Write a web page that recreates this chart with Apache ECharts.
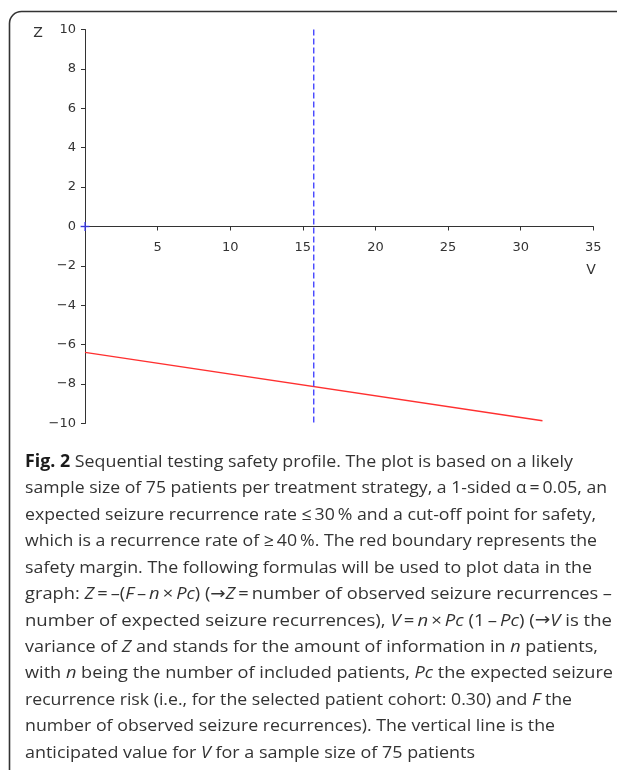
<!DOCTYPE html>
<html>
<head>
<meta charset="utf-8">
<script src="https://cdn.jsdelivr.net/npm/echarts@6/dist/echarts.min.js"></script>
<style>
html,body{margin:0;padding:0;background:#fff;}
#c{width:617px;height:770px;}
</style>
</head>
<body>
<div id="c"></div>
<script>
// ---- data ----
var xTicks = [5, 10, 15, 20, 25, 30, 35];
var yTicks = [-10, -8, -6, -4, -2, 0, 2, 4, 6, 8, 10];
var boundaryV = [0, 31.5];          // V values of the red safety boundary
var boundaryZ = [-6.39, -9.86];     // Z values of the red safety boundary
var anticipatedV = 15.75;           // vertical line (n=75, Pc=0.30)
var anticipatedZ = [10, -10];
var originPoint = [[0, 0]];
var captionLines = [
  '{b|Fig. 2} Sequential testing safety profile. The plot is based on a likely',
  'sample size of 75 patients per treatment strategy, a 1-sided \u03b1\u2009=\u20090.05, an',
  'expected seizure recurrence rate \u2264\u200930\u2009% and a cut-off point for safety,',
  'which is a recurrence rate of \u2265\u200940\u2009%. The red boundary represents the',
  'safety margin. The following formulas will be used to plot data in the',
  'graph: {i|Z}\u2009=\u2009\u2013({i|F}\u2009\u2013\u2009{i|n}\u2009\u00d7\u2009{i|Pc}) ({a|\u2192}{i|Z}\u2009=\u2009number of observed seizure recurrences \u2013',
  'number of expected seizure recurrences), {i|V}\u2009=\u2009{i|n}\u2009\u00d7\u2009{i|Pc} (1\u2009\u2013\u2009{i|Pc}) ({a|\u2192}{i|V} is the',
  'variance of {i|Z} and stands for the amount of information in {i|n} patients,',
  'with {i|n} being the number of included patients, {i|Pc} the expected seizure',
  'recurrence risk (i.e., for the selected patient cohort: 0.30) and {i|F} the',
  'number of observed seizure recurrences). The vertical line is the',
  'anticipated value for {i|V} for a sample size of 75 patients'
];

// ---- layout ----
var capLeft = 25;
var capLineEnds = [573, 607, 596, 597, 592, 612, 612, 598, 613, 572, 555, 475];
var capSize = 17;
var capFamily = '"Open Sans"';
var fonts = {
  r: capSize + 'px ' + capFamily,
  b: 'bold ' + capSize + 'px ' + capFamily,
  i: 'italic ' + capSize + 'px ' + capFamily,
  a: capSize + 'px "DejaVu Sans"'
};
var ctx = document.createElement('canvas').getContext('2d');
function mw(t, k) { ctx.font = fonts[k]; return ctx.measureText(t).width; }
function measure(line) {
  var re = /\{(\w)\|([^}]*)\}/g, w = 0, last = 0, m;
  while ((m = re.exec(line))) {
    w += mw(line.slice(last, m.index), 'r');
    w += mw(m[2], m[1]);
    last = re.lastIndex;
  }
  return w + mw(line.slice(last), 'r');
}

var chart = echarts.init(document.getElementById('c'), null, {renderer: 'canvas'});

var gridTop = 29.5, gridBottom = 346.5;
var gridH = 770 - gridTop - gridBottom;
var capGraphics = captionLines.map(function (t, i) {
  var sc = (capLineEnds[i] - capLeft) / measure(t);
  return {
    type: 'text',
    x: capLeft, y: 462 + i * 26.45,
    scaleX: sc, scaleY: 1,
    style: {
      text: t,
      font: fonts.r,
      fill: '#333',
      verticalAlign: 'middle',
      rich: {
        b: {fontWeight: 'bold', fontSize: capSize, fontFamily: capFamily, fill: '#1a1a1a', verticalAlign: 'middle'},
        i: {fontStyle: 'italic', fontSize: capSize, fontFamily: capFamily, fill: '#333', verticalAlign: 'middle'},
        a: {fontSize: capSize, fontFamily: '"DejaVu Sans"', fill: '#333', verticalAlign: 'middle'}
      }
    }
  };
});

var option = {
  backgroundColor: '#fff',
  animation: false,
  grid: {left: 85, right: 23.7, top: gridTop, bottom: gridBottom, containLabel: false},
  xAxis: {
    type: 'value', min: 0, max: 35, interval: 5,
    offset: -gridH / 2,
    axisLine: {onZero: false, lineStyle: {color: '#333', width: 1}},
    axisTick: {show: true, length: 4, lineStyle: {color: '#333'}},
    splitLine: {show: false},
    axisLabel: {
      margin: 15, color: '#333', fontFamily: '"DejaVu Sans"', fontSize: 13,
      showMinLabel: false,
      formatter: function (v) { return xTicks.indexOf(v) >= 0 ? String(v) : ''; }
    }
  },
  yAxis: {
    type: 'value', min: -10, max: 10, interval: 2,
    axisLine: {show: true, onZero: false, lineStyle: {color: '#333', width: 1}},
    axisTick: {show: true, length: 4, lineStyle: {color: '#333'}},
    splitLine: {show: false},
    axisLabel: {
      margin: 9, color: '#333', fontFamily: '"DejaVu Sans"', fontSize: 13,
      formatter: function (v) { return yTicks.indexOf(v) >= 0 ? String(v).replace('-', '\u2212') : ''; }
    }
  },
  series: [
    {
      type: 'line',
      data: boundaryV.map(function (v, i) { return [v, boundaryZ[i]]; }),
      symbol: 'none',
      lineStyle: {color: '#ff3030', width: 1.3},
      z: 3
    },
    {
      type: 'line',
      data: anticipatedZ.map(function (z) { return [anticipatedV, z]; }),
      symbol: 'none',
      lineStyle: {color: '#4646ff', width: 1.4, type: [6, 3]},
      z: 4
    },
    {
      type: 'scatter',
      data: originPoint,
      symbol: 'path://M0,5L10,5M5,0L5,10',
      symbolSize: 9,
      itemStyle: {color: 'rgba(0,0,0,0)', borderColor: '#3c3cff', borderWidth: 1.5},
      z: 5
    }
  ],
  graphic: [
    {
      type: 'rect', silent: true,
      shape: {x: 9.5, y: 11.5, width: 720, height: 770, r: 12},
      style: {fill: 'none', stroke: '#333', lineWidth: 1.6},
      z: 0
    },
    {
      type: 'text', x: 38, y: 33,
      style: {text: 'Z', font: '14px "DejaVu Sans"', fill: '#333', align: 'center', verticalAlign: 'middle'}
    },
    {
      type: 'text', x: 591, y: 270,
      style: {text: 'V', font: '14px "DejaVu Sans"', fill: '#333', align: 'center', verticalAlign: 'middle'}
    }
  ].concat(capGraphics)
};
chart.setOption(option);
</script>
</body>
</html>
